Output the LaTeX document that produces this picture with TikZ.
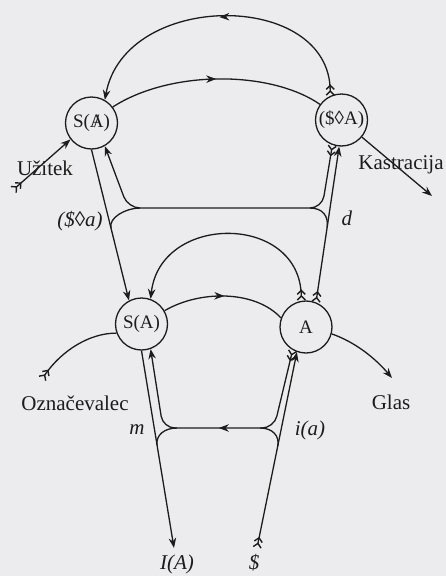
\documentclass[tikz,border=0pt]{standalone}
\usepackage{fontspec}
\setmainfont{Liberation Serif}
\usepackage{xcolor}
\usetikzlibrary{arrows.meta,decorations.markings,calc}

\definecolor{paper}{RGB}{236,236,238}
\definecolor{ink}{RGB}{28,28,28}
\newcommand{\barredA}{\ooalign{A\cr\hidewidth/\hidewidth\cr}}

\tikzset{
  arr/.tip={Stealth[length=10pt,width=7.5pt]},
  fletch/.tip={Straight Barb[reversed,length=4pt,width=8pt,line width=1.4pt]Straight Barb[reversed,length=4pt,width=8pt,line width=1.4pt]},
}

\begin{document}
\begin{tikzpicture}[x=1pt,y=-1pt,line width=1.3pt,ink,
    vtx/.style={circle,draw,minimum size=52pt,inner sep=0pt,font=\fontsize{19}{22}\selectfont},
    lbl/.style={font=\fontsize{21}{25}\selectfont},
    midarrow/.style={postaction={decorate,decoration={markings,mark=at position #1 with {\arrow{Stealth[length=10pt,width=7.5pt]}}}}}]
    % page
    \fill[paper] (0,0) rectangle (446,576);
    \useasboundingbox (0,0) rectangle (446,576);

    % Vertices
    \node[vtx] (sbarA) at (91.5,123) {S(\barredA)};
    \node[vtx] (fantA) at (341.5,120) {(\$◊A)};
    \node[vtx] (sA) at (141.5,324) {S(A)};
    \node[vtx] (oA) at (306,327) {A};

    % Free ends
    \coordinate (jouis) at (13,190);
    \coordinate (castr) at (432,196);
    \coordinate (sigS) at (42,379);
    \coordinate (voice) at (392,378);
    \coordinate (iA) at (174,548);
    \coordinate (barS) at (257,548);

    % Upper chain
    \draw[fletch-arr,midarrow=0.5] (fantA.115) .. controls (330,-10) and (125,-10) .. (sbarA.60);
    \draw[midarrow=0.5] (sbarA.37) .. controls (170,70) and (270,70) .. (fantA.144);
    \draw[fletch-arr] (jouis) -- (sbarA.218);
    \draw[-arr] (fantA.-40) -- (castr);

    % Upper loop
    \draw[-arr] (sbarA.south) -- (sA.118);
    \draw[fletch-arr] (oA.68) -- (fantA.265);
    \draw[fletch-arr,rounded corners=12pt] (fantA.250) -- (322,208) -- (128,208) -- (sbarA.300);
    \draw (140,208) .. controls (126,208) and ($(sbarA.south)!0.45!(sA.118)$) .. ($(sbarA.south)!0.52!(sA.118)$);
    \draw (310,208) .. controls (323,208) and ($(fantA.265)!0.45!(oA.68)$) .. ($(fantA.265)!0.52!(oA.68)$);

    % Lower chain
    \draw[fletch-arr] (oA.100) .. controls (300,213) and (160,213) .. (sA.70);
    \draw[midarrow=0.5] (sA.30) .. controls (200,290) and (255,290) .. (oA.160);
    \draw[fletch-] (sigS) .. controls (62,350) and (90,333) .. (sA.200);
    \draw[-arr] (oA.-15) .. controls (355,342) and (375,358) .. (voice);

    % Lower loop
    \draw[-arr] (sA.south) -- (iA);
    \draw[fletch-arr] (barS) -- (oA.250);
    \draw[fletch-arr,rounded corners=12pt,midarrow=0.5] (oA.240) -- (274,428) -- (163,428) -- (sA.290);
    \draw (177,428) .. controls (164,428) and ($(sA.south)!0.43!(iA)$) .. ($(sA.south)!0.48!(iA)$);
    \draw (260,428) .. controls (273,428) and ($(oA.250)!0.43!(barS)$) .. ($(oA.250)!0.48!(barS)$);

    % Labels
    \node[lbl] (jouisL) at (45,168) {Užitek};
    \node[lbl] (castrL) at (401,165) {Kastracija};
    \node[lbl] (sigL) at (75,403) {Označevalec};
    \node[lbl] (voiceL) at (391,402) {Glas};
    \node[lbl] (dL) at (80,221) {\textit{(\$◊a)}};
    \node[lbl] (dR) at (347,218) {\textit{d}};
    \node[lbl] (mL) at (137,430) {\textit{m}};
    \node[lbl] (iaL) at (310,430) {\textit{i(a)}};
    \node[lbl] (iAL) at (177,564) {\textit{I(A)}};
    \node[lbl] (barSL) at (254,563) {\textit{\$}};
\end{tikzpicture}
\end{document}
